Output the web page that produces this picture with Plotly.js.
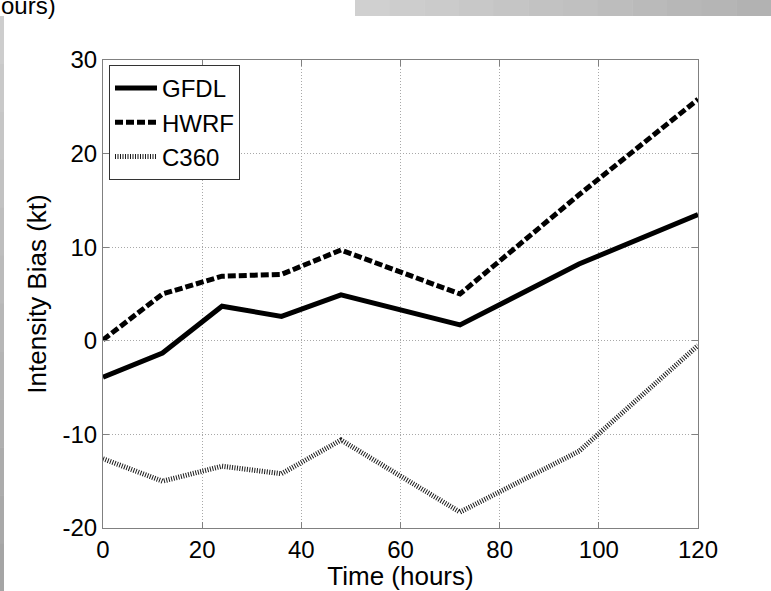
<!DOCTYPE html>
<html>
<head>
<meta charset="utf-8">
<script src="https://cdn.plot.ly/plotly-3.0.1.min.js"></script>
<style>html,body{margin:0;padding:0;background:#fff;}#chart{width:771px;height:591px;}</style>
</head>
<body>
<div id="chart"></div>
<script>
// ---- data ----
var hours = [0, 12, 24, 36, 48, 72, 96, 120];
var gfdl  = [-3.9, -1.3, 3.7, 2.6, 4.9, 1.7, 8.2, 13.5];
var hwrf  = [0.1, 5.0, 6.9, 7.1, 9.7, 5.0, 15.6, 25.8];
var c360  = [-12.6, -15.0, -13.4, -14.2, -10.6, -18.3, -11.8, -0.5];
var seriesNames = ["GFDL", "HWRF", "C360"];
var xTicks = [0, 20, 40, 60, 80, 100, 120];
var yTicks = [-20, -10, 0, 10, 20, 30];

var W = 771, H = 591;
var L = 103, R = 73, T = 60, B = 63;
var pw = W - L - R, ph = H - T - B;
function px(x){ return (x - L) / pw; }
function py(y){ return (H - B - y) / ph; }

var FONT = "Liberation Sans, Arial, Helvetica, sans-serif";

var traces = [
  {x: hours, y: gfdl, name: seriesNames[0], mode: "lines",
   line: {color: "#000", width: 5}},
  {x: hours, y: hwrf, name: seriesNames[1], mode: "lines",
   line: {color: "#000", width: 5, dash: "8px,3px"}},
  {x: hours, y: c360, name: seriesNames[2], mode: "lines",
   line: {color: "#1a1a1a", width: 5, dash: "1px,1.5px"}}
];

// decorative cropped-figure remnants
var shapes = [];
var nSeg = 12;
for (var i = 0; i < nSeg; i++) {
  var x0 = 355 + (W - 355) * i / nSeg, x1 = 355 + (W - 355) * (i + 1) / nSeg;
  var g = Math.round(208 - 30 * i / (nSeg - 1));
  shapes.push({type: "rect", xref: "paper", yref: "paper", x0: px(x0), x1: px(x1 + 0.5),
    y0: py(16), y1: py(0), fillcolor: "rgb(" + g + "," + g + "," + g + ")", line: {width: 0}, layer: "below"});
}
for (var j = 0; j < nSeg; j++) {
  var y0 = 16 + (H - 16) * j / nSeg, y1 = 16 + (H - 16) * (j + 1) / nSeg;
  var g2 = Math.round(205 - 40 * j / (nSeg - 1));
  shapes.push({type: "rect", xref: "paper", yref: "paper", x0: px(0), x1: px(4),
    y0: py(y1 + 0.5), y1: py(y0), fillcolor: "rgb(" + g2 + "," + g2 + "," + g2 + ")", line: {width: 0}, layer: "below"});
}

var axisCommon = {
  showline: true, linecolor: "#808080", linewidth: 1, mirror: "ticks",
  ticks: "inside", ticklen: 6, tickcolor: "#808080", tickwidth: 1,
  showgrid: true, gridcolor: "#a8a8a8", gridwidth: 1, griddash: "1px,2px",
  zeroline: false, tickfont: {family: FONT, size: 24, color: "#000"}
};

var layout = {
  width: W, height: H,
  margin: {l: L, r: R, t: T, b: B, pad: 0},
  paper_bgcolor: "#fff", plot_bgcolor: "#fff",
  showlegend: true,
  legend: {x: px(109), y: py(65), xanchor: "left", yanchor: "top",
    bgcolor: "#fff", bordercolor: "#333", borderwidth: 1,
    font: {family: FONT, size: 24, color: "#000"}, itemwidth: 42,
    tracegroupgap: 0},
  xaxis: Object.assign({}, axisCommon, {
    range: [0, 120], tickmode: "array", tickvals: xTicks, ticktext: xTicks.map(String),
    title: {text: "Time (hours)", font: {family: FONT, size: 26, color: "#000"}, standoff: 0}
  }),
  yaxis: Object.assign({}, axisCommon, {
    range: [-20, 30], tickmode: "array", tickvals: yTicks, ticktext: yTicks.map(String),
    title: {text: "Intensity Bias (kt)", font: {family: FONT, size: 26, color: "#000"}, standoff: 8}
  }),
  shapes: shapes,
  annotations: [{
    xref: "paper", yref: "paper", x: px(-1), y: py(6), xanchor: "left", yanchor: "middle",
    text: "ours)", showarrow: false, font: {family: FONT, size: 24, color: "#000"}
  }]
};

Plotly.newPlot("chart", traces, layout, {displayModeBar: false, staticPlot: true});
</script>
</body>
</html>
